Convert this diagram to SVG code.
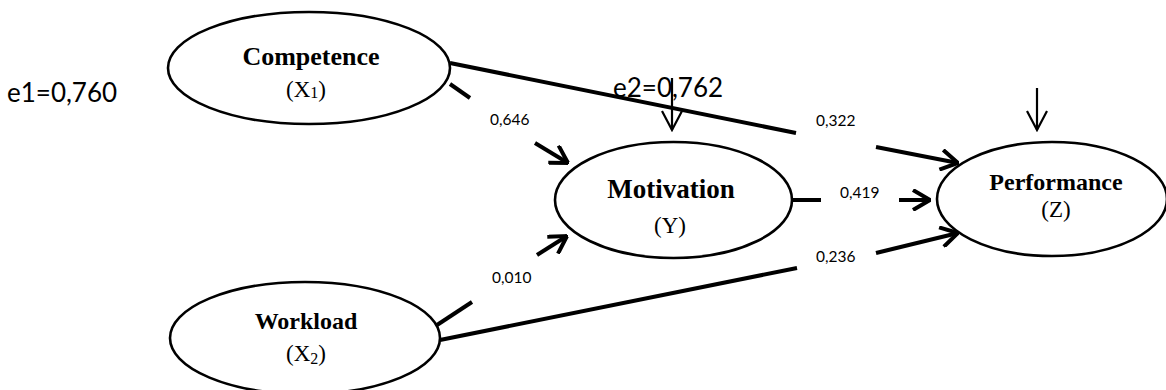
<svg xmlns="http://www.w3.org/2000/svg" width="1166" height="390" viewBox="0 0 1166 390">
<style>
.node{fill:#fff;stroke:#000;stroke-width:2.6}
.t{font-family:"Liberation Serif","Times New Roman",serif;fill:#000;text-anchor:middle}
.b{font-weight:bold}
.lbl{font-family:Lato,"Open Sans",sans-serif;fill:#000;font-size:15.5px}
.err{font-family:Lato,"Open Sans",sans-serif;fill:#000;font-size:26px}
.p{fill:none;stroke:#000;stroke-width:4}
.e{fill:none;stroke:#000;stroke-width:2.2}
</style>
<defs>
<marker id="ah" viewBox="0 0 20 22" refX="19" refY="11" markerWidth="20" markerHeight="22" markerUnits="userSpaceOnUse" orient="auto">
<path d="M2,1 L19,11 L2,21" fill="none" stroke="#000" stroke-width="4"/>
</marker>
<marker id="ahs" viewBox="0 0 22 22" refX="20" refY="11" markerWidth="22" markerHeight="22" markerUnits="userSpaceOnUse" orient="auto">
<path d="M1,1 L20,11 L1,21" fill="none" stroke="#000" stroke-width="2.2"/>
</marker>
</defs>
<rect width="1166" height="390" fill="#fff"/>
<g id="competence">
<ellipse class="node" cx="309" cy="68" rx="141" ry="56"/>
<text class="t b" x="311" y="65" font-size="26">Competence</text>
<text class="t" x="306" y="97" font-size="23">(X<tspan font-size="16" dy="1">1</tspan><tspan dy="-1">)</tspan></text>
</g>
<g id="motivation">
<ellipse class="node" cx="673.5" cy="200" rx="118.5" ry="58"/>
<text class="t b" x="671" y="198" font-size="27">Motivation</text>
<text class="t" x="670" y="233" font-size="23">(Y)</text>
</g>
<g id="performance">
<ellipse class="node" cx="1052" cy="199" rx="115" ry="57"/>
<text class="t b" x="1056" y="190" font-size="24">Performance</text>
<text class="t" x="1056" y="217" font-size="23">(Z)</text>
</g>
<g id="workload">
<ellipse class="node" cx="305" cy="338" rx="135" ry="56"/>
<text class="t b" x="306" y="329" font-size="24">Workload</text>
<text class="t" x="306" y="361" font-size="23">(X<tspan font-size="16" dy="3">2</tspan><tspan dy="-3">)</tspan></text>
</g>
<g id="connectors">
<path class="p" d="M450,84 L470,98"/>
<path class="p" d="M535,143 L568,163" marker-end="url(#ah)"/>
<path class="p" d="M450,63 L796,133"/>
<path class="p" d="M876,147 L958,163" marker-end="url(#ah)"/>
<path class="p" d="M793,200 L821,200"/>
<path class="p" d="M899,200 L930,200" marker-end="url(#ah)"/>
<path class="p" d="M440,340 L797,268"/>
<path class="p" d="M876,253 L958,233" marker-end="url(#ah)"/>
<path class="p" d="M437,325 L472,302"/>
<path class="p" d="M537,255 L567,236" marker-end="url(#ah)"/>
<path class="e" d="M672,78 L672,130" marker-end="url(#ahs)"/>
<path class="e" d="M1037,88 L1037,130" marker-end="url(#ahs)"/>
</g>
<g id="labels">
<text class="err" x="7" y="102">e1=0,760</text>
<text class="err" x="613" y="97">e2=0,762</text>
<text class="lbl" x="490" y="125">0,646</text>
<text class="lbl" x="816" y="126">0,322</text>
<text class="lbl" x="840" y="198">0,419</text>
<text class="lbl" x="816" y="262">0,236</text>
<text class="lbl" x="492" y="283">0,010</text>
</g>
</svg>
